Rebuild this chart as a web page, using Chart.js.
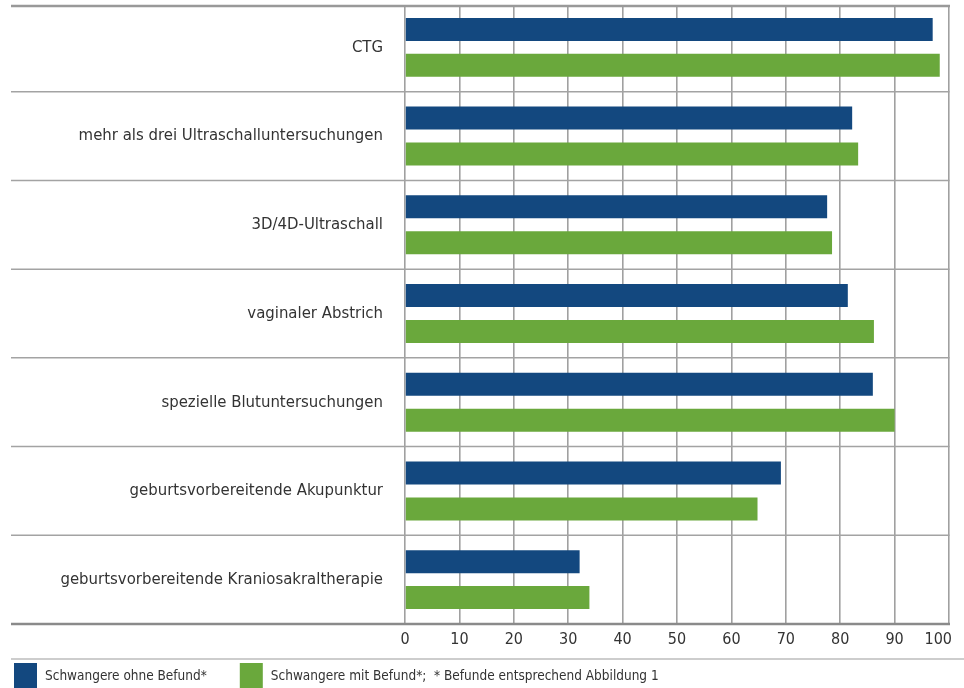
<!DOCTYPE html>
<html>
<head>
<meta charset="utf-8">
<script src="https://cdn.jsdelivr.net/npm/chart.js@4/dist/chart.umd.min.js"></script>
<style>
  html, body { margin: 0; padding: 0; background: #ffffff; }
  #wrap { width: 964px; height: 688px; }
</style>
</head>
<body>
<div id="wrap"><canvas id="c" width="964" height="688"></canvas></div>
<script>
// Untersuchungen und Anteil der Schwangeren (%)
const categories = [
  'CTG',
  'mehr als drei Ultraschalluntersuchungen',
  '3D/4D-Ultraschall',
  'vaginaler Abstrich',
  'spezielle Blutuntersuchungen',
  'geburtsvorbereitende Akupunktur',
  'geburtsvorbereitende Kraniosakraltherapie'
];
const seriesNames = [
  'Schwangere ohne Befund*',
  'Schwangere mit Befund*;  * Befunde entsprechend Abbildung 1'
];
const ohneBefund = [97.0, 82.2, 77.6, 81.4, 86.0, 69.1, 32.1];
const mitBefund  = [98.3, 83.3, 78.5, 86.2, 90.0, 64.8, 33.9];
const xTicks = [0, 10, 20, 30, 40, 50, 60, 70, 80, 90, 100];

const FONT = "'Liberation Sans Narrow', 'DejaVu Sans Condensed', 'Roboto', sans-serif";
const TEXT = '#333333';
const BLUE = '#13487f';
const GREEN = '#6aa83c';
const LINE_LEFT = 11;

// horizontal rules across the label column and plot, plus the legend row
const framePlugin = {
  id: 'frame',
  beforeDatasetsDraw(chart) {
    const { ctx, chartArea, scales } = chart;
    const y = scales.y;
    ctx.save();
    ctx.strokeStyle = '#a3a3a3';
    ctx.lineWidth = 1.5;
    for (let i = 1; i < categories.length; i++) {
      const yy = (y.getPixelForValue(i - 1) + y.getPixelForValue(i)) / 2;
      ctx.beginPath();
      ctx.moveTo(LINE_LEFT, yy);
      ctx.lineTo(chartArea.right + 0.5, yy);
      ctx.stroke();
    }
    ctx.restore();
  },
  afterDraw(chart) {
    const { ctx, chartArea, width, height } = chart;
    ctx.save();
    // top rule
    ctx.fillStyle = '#ffffff';
    ctx.fillRect(chartArea.left - 2, 0, chartArea.right - chartArea.left + 4, 5);
    ctx.strokeStyle = '#999999';
    ctx.lineWidth = 2.5;
    ctx.beginPath();
    ctx.moveTo(LINE_LEFT, 6);
    ctx.lineTo(chartArea.right + 1, 6);
    ctx.stroke();
    // bottom axis rule
    ctx.strokeStyle = '#8a8a8a';
    ctx.lineWidth = 2.5;
    ctx.beginPath();
    ctx.moveTo(LINE_LEFT, chartArea.bottom);
    ctx.lineTo(chartArea.right + 1, chartArea.bottom);
    ctx.stroke();
    // legend separator
    ctx.strokeStyle = '#bdbdbd';
    ctx.lineWidth = 1.5;
    ctx.beginPath();
    ctx.moveTo(LINE_LEFT, 659);
    ctx.lineTo(width, 659);
    ctx.stroke();
    // legend items
    ctx.font = '13.5px ' + FONT;
    ctx.textBaseline = 'middle';
    ctx.textAlign = 'left';
    let x = 14;
    chart.data.datasets.forEach((ds) => {
      ctx.fillStyle = ds.backgroundColor;
      ctx.fillRect(x, 663, 23, height - 663);
      ctx.fillStyle = TEXT;
      ctx.fillText(ds.label, x + 31, 676);
      x += 31 + ctx.measureText(ds.label).width + 33;
    });
    ctx.restore();
  }
};

new Chart(document.getElementById('c'), {
  type: 'bar',
  data: {
    labels: categories,
    datasets: [
      { label: seriesNames[0], data: ohneBefund, backgroundColor: BLUE },
      { label: seriesNames[1], data: mitBefund, backgroundColor: GREEN }
    ]
  },
  options: {
    indexAxis: 'y',
    responsive: false,
    animation: false,
    devicePixelRatio: 1,
    categoryPercentage: 0.81,
    barPercentage: 0.64,
    layout: { padding: { top: 3, right: 15, left: 0, bottom: 0 } },
    plugins: {
      legend: { display: false },
      tooltip: { enabled: false }
    },
    scales: {
      x: {
        min: 0,
        max: 100,
        afterBuildTicks(scale) { scale.ticks = xTicks.map(v => ({ value: v })); },
        afterFit(scale) {
          scale.height = 64;
          scale.paddingLeft = 0;
          scale.paddingRight = 0;
        },
        border: { display: false },
        grid: { color: '#a0a0a0', lineWidth: 1.6, drawTicks: false },
        ticks: {
          color: TEXT,
          font: { family: FONT, size: 16 },
          padding: 6,
          maxRotation: 0,
          // the end label sits slightly inside the right edge
          callback: (v) => (v === 100 ? '100\u2002\u2002\u2002' : String(v))
        }
      },
      y: {
        afterFit(scale) {
          scale.width = 405;
          scale.paddingTop = 0;
          scale.paddingBottom = 0;
        },
        border: { display: false },
        grid: { display: false, drawTicks: false },
        ticks: { color: TEXT, font: { family: FONT, size: 16.6 }, padding: 22, autoSkip: false }
      }
    }
  },
  plugins: [framePlugin]
});
</script>
</body>
</html>
